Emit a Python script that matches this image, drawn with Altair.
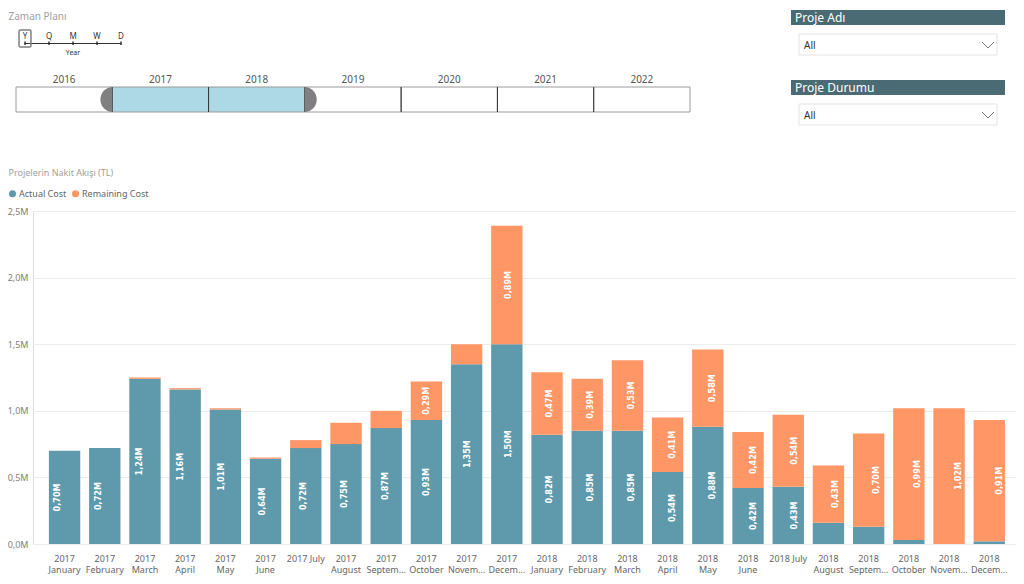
import altair as alt
import pandas as pd

# ---------------- data ----------------
months = [
    "2017\nJanuary", "2017\nFebruary", "2017\nMarch", "2017\nApril", "2017\nMay", "2017\nJune",
    "2017 July", "2017\nAugust", "2017\nSeptem...", "2017\nOctober", "2017\nNovem...", "2017\nDecem...",
    "2018\nJanuary", "2018\nFebruary", "2018\nMarch", "2018\nApril", "2018\nMay", "2018\nJune",
    "2018 July", "2018\nAugust", "2018\nSeptem...", "2018\nOctober", "2018\nNovem...", "2018\nDecem...",
]
actual = [0.70, 0.72, 1.24, 1.16, 1.01, 0.64, 0.72, 0.75, 0.87, 0.93, 1.35, 1.50,
          0.82, 0.85, 0.85, 0.54, 0.88, 0.42, 0.43, 0.16, 0.13, 0.03, 0.00, 0.02]
remaining = [0.00, 0.00, 0.01, 0.01, 0.01, 0.01, 0.06, 0.16, 0.13, 0.29, 0.15, 0.89,
             0.47, 0.39, 0.53, 0.41, 0.58, 0.42, 0.54, 0.43, 0.70, 0.99, 1.02, 0.91]
series_names = ["Actual Cost", "Remaining Cost"]
y_ticks = [0.0, 0.5, 1.0, 1.5, 2.0, 2.5]

years = ["2016", "2017", "2018", "2019", "2020", "2021", "2022"]
selected_years = ["2017", "2018"]
granularity = ["Y", "Q", "M", "W", "D"]
granularity_label = "Year"
slicers = ["Proje Adı", "Proje Durumu"]
slicer_value = "All"
timeline_title = "Zaman Planı"
chart_title = "Projelerin Nakit Akışı (TL)"

# ---------------- style ----------------
BLUE = "#5f9aac"
ORANGE = "#fe9666"
HEADER = "#4a6b74"
LIGHTBLUE = "#add8e6"
FONT = "Noto Sans"
LABEL_FONT = "DejaVu Sans Condensed"

OX, OY = 33, 211  # plot-area origin on the page


def px(x):
    return x - OX


def py(y):
    return y - OY


# ---------------- main chart ----------------
rows = []
for i, m in enumerate(months):
    rows.append(dict(month=m, series=series_names[0], value=actual[i], ord=0, base=0.0))
    rows.append(dict(month=m, series=series_names[1], value=remaining[i], ord=1, base=actual[i]))
df = pd.DataFrame(rows)
df["mid"] = df["base"] + df["value"] / 2
df["label"] = df["value"].map(lambda v: f"{v:.2f}".replace(".", ",") + "M")
lbl = df[df["value"] >= 0.2]

x_scale = alt.Scale(domain=months, paddingInner=0.22, paddingOuter=0.335, align=0.59)
y_scale = alt.Scale(domain=[0, 2.5], nice=False)

bars = alt.Chart(df).mark_bar().encode(
    x=alt.X("month:N", scale=x_scale, sort=months,
            axis=alt.Axis(title=None, labelExpr="split(datum.value, '\\n')", labelAngle=0,
                          labelOverlap=False, labelLimit=200, labelFontSize=9, labelColor="#666",
                          labelPadding=10, labelLineHeight=11, ticks=False, domain=False,
                          labelFont=FONT)),
    y=alt.Y("value:Q", stack="zero", scale=y_scale,
            axis=alt.Axis(title=None, values=y_ticks,
                          labelExpr="replace(format(datum.value, '.1f'), '.', ',') + 'M'",
                          labelFontSize=9, labelColor="#808080", labelPadding=5, ticks=False,
                          domain=False, gridColor="#ececec", labelFont=FONT)),
    color=alt.Color("series:N", scale=alt.Scale(domain=series_names, range=[BLUE, ORANGE]),
                    legend=alt.Legend(orient="none", legendX=px(8), legendY=py(189),
                                      direction="horizontal", title=None, symbolType="circle",
                                      symbolSize=50, labelFontSize=9, labelColor="#666",
                                      columnPadding=4, labelOffset=2, labelFont=FONT)),
    order=alt.Order("ord:Q", sort="ascending"),
)

labels = alt.Chart(lbl).mark_text(angle=270, color="white", fontSize=9, fontWeight="bold",
                                  font=LABEL_FONT, baseline="middle", align="center").encode(
    x=alt.X("month:N", scale=x_scale, sort=months, axis=None),
    y=alt.Y("mid:Q", scale=y_scale, axis=None),
    text="label:N",
)

titles = [
    alt.Chart(pd.DataFrame({"t": [timeline_title]})).mark_text(
        align="left", baseline="middle", fontSize=10, color="#a0a0a0", font=FONT).encode(
        x=alt.value(px(8.5)), y=alt.value(py(17)), text="t:N"),
    alt.Chart(pd.DataFrame({"t": [chart_title]})).mark_text(
        align="left", baseline="middle", fontSize=9, color="#a0a0a0", font=FONT).encode(
        x=alt.value(px(8.5)), y=alt.value(py(173)), text="t:N"),
]

# ---------------- timeline slicer ----------------
tl_scale = alt.Scale(type="band", domain=years, range=[px(16), px(690)], paddingInner=0, paddingOuter=0)
tl_df = pd.DataFrame({"year": years})

cells = alt.Chart(tl_df).mark_rect(stroke="#9a9a9a", strokeWidth=1).encode(
    x=alt.X("year:N", scale=tl_scale, axis=None),
    y=alt.value(py(87)), y2=alt.value(py(112)),
    fill=alt.condition(alt.FieldOneOfPredicate(field="year", oneOf=selected_years),
                       alt.value(LIGHTBLUE), alt.value("white")),
)
separators = alt.Chart(pd.DataFrame({"year": years[1:]})).mark_rule(color="#333", strokeWidth=1).encode(
    x=alt.X("year:N", scale=tl_scale, axis=None, bandPosition=0),
    y=alt.value(py(87)), y2=alt.value(py(112)),
)
year_text = alt.Chart(tl_df).mark_text(fontSize=10, color="#555", font=FONT, baseline="middle").encode(
    x=alt.X("year:N", scale=tl_scale, axis=None),
    y=alt.value(py(79.5)), text="year:N",
)
left_year = selected_years[0]
right_year = years[years.index(selected_years[-1]) + 1]
handle_left = alt.Chart(pd.DataFrame({"year": [left_year]})).mark_point(
    filled=True, shape="M0,-1A0.95,1 0 0 0 0,1Z", size=625, color="#808080", opacity=1, strokeWidth=0).encode(
    x=alt.X("year:N", scale=tl_scale, axis=None, bandPosition=0),
    y=alt.value(py(99.5)),
)
handle_right = alt.Chart(pd.DataFrame({"year": [right_year]})).mark_point(
    filled=True, shape="M0,-1A0.95,1 0 0 1 0,1Z", size=625, color="#808080", opacity=1, strokeWidth=0).encode(
    x=alt.X("year:N", scale=tl_scale, axis=None, bandPosition=0),
    y=alt.value(py(99.5)),
)

# granularity selector
gr_scale = alt.Scale(type="point", domain=granularity, range=[px(25), px(121)], padding=0)
gr_df = pd.DataFrame({"g": granularity})
gr_line = alt.Chart(pd.DataFrame({"a": [0]})).mark_rule(color="#333", strokeWidth=1).encode(
    x=alt.value(px(25)), x2=alt.value(px(121)), y=alt.value(py(43.5)))
gr_ticks = alt.Chart(gr_df).mark_rule(color="#333", strokeWidth=1.5).encode(
    x=alt.X("g:N", scale=gr_scale, axis=None), y=alt.value(py(41.5)), y2=alt.value(py(45)))
gr_text = alt.Chart(gr_df).mark_text(fontSize=8, color="#333", font=FONT, baseline="middle").encode(
    x=alt.X("g:N", scale=gr_scale, axis=None), y=alt.value(py(37)), text="g:N")
gr_box = alt.Chart(pd.DataFrame({"g": [granularity[0]]})).mark_point(
    filled=False, size=289, color="#7f7f7f", strokeWidth=1.5, opacity=1,
    shape="M-0.55,-1H0.55Q0.7,-1 0.7,-0.85V0.85Q0.7,1 0.55,1H-0.55Q-0.7,1 -0.7,0.85V-0.85Q-0.7,-1 -0.55,-1Z").encode(
    x=alt.X("g:N", scale=gr_scale, axis=None), y=alt.value(py(38.5)))
gr_label = alt.Chart(pd.DataFrame({"g": [granularity[2]], "t": [granularity_label]})).mark_text(
    fontSize=7, color="#333", font=FONT, baseline="middle").encode(
    x=alt.X("g:N", scale=gr_scale, axis=None), y=alt.value(py(53)), text="t:N")

# ---------------- dropdown slicers ----------------
slicer_layers = []
for i, name in enumerate(slicers):
    y0 = 10 + 70 * i
    d = pd.DataFrame({"name": [name], "value": [slicer_value]})
    base = alt.Chart(d)
    slicer_layers += [
        base.mark_rect(color=HEADER).encode(
            x=alt.value(px(791)), x2=alt.value(px(1005)), y=alt.value(py(y0)), y2=alt.value(py(y0 + 15))),
        base.mark_text(align="left", baseline="middle", color="white", fontSize=12, font=FONT).encode(
            x=alt.value(px(795)), y=alt.value(py(y0 + 8)), text="name:N"),
        base.mark_rect(fill="white", stroke="#e3e3e3", strokeWidth=1).encode(
            x=alt.value(px(799)), x2=alt.value(px(997)), y=alt.value(py(y0 + 24)), y2=alt.value(py(y0 + 45))),
        base.mark_text(align="left", baseline="middle", color="#333", fontSize=10, font=FONT).encode(
            x=alt.value(px(804)), y=alt.value(py(y0 + 35.5)), text="value:N"),
        base.mark_point(filled=False, shape="M-1,-0.5L0,0.5L1,-0.5", size=144, color="#777",
                        strokeWidth=1, opacity=1).encode(
            x=alt.value(px(988)), y=alt.value(py(y0 + 35))),
    ]

chart = alt.layer(
    bars, labels, *titles,
    cells, separators, handle_left, handle_right, year_text,
    gr_line, gr_ticks, gr_text, gr_box, gr_label,
    *slicer_layers,
).resolve_scale(
    x="independent", y="independent", color="independent"
).properties(
    width=983, height=333,
    autosize=alt.AutoSizeParams(type="none"),
    padding={"left": 25, "top": 203, "right": 0, "bottom": 32},
).configure_view(stroke=None).configure(font=FONT, background="white")

chart.save("out.html", embed_options={"renderer": "svg", "actions": False})
